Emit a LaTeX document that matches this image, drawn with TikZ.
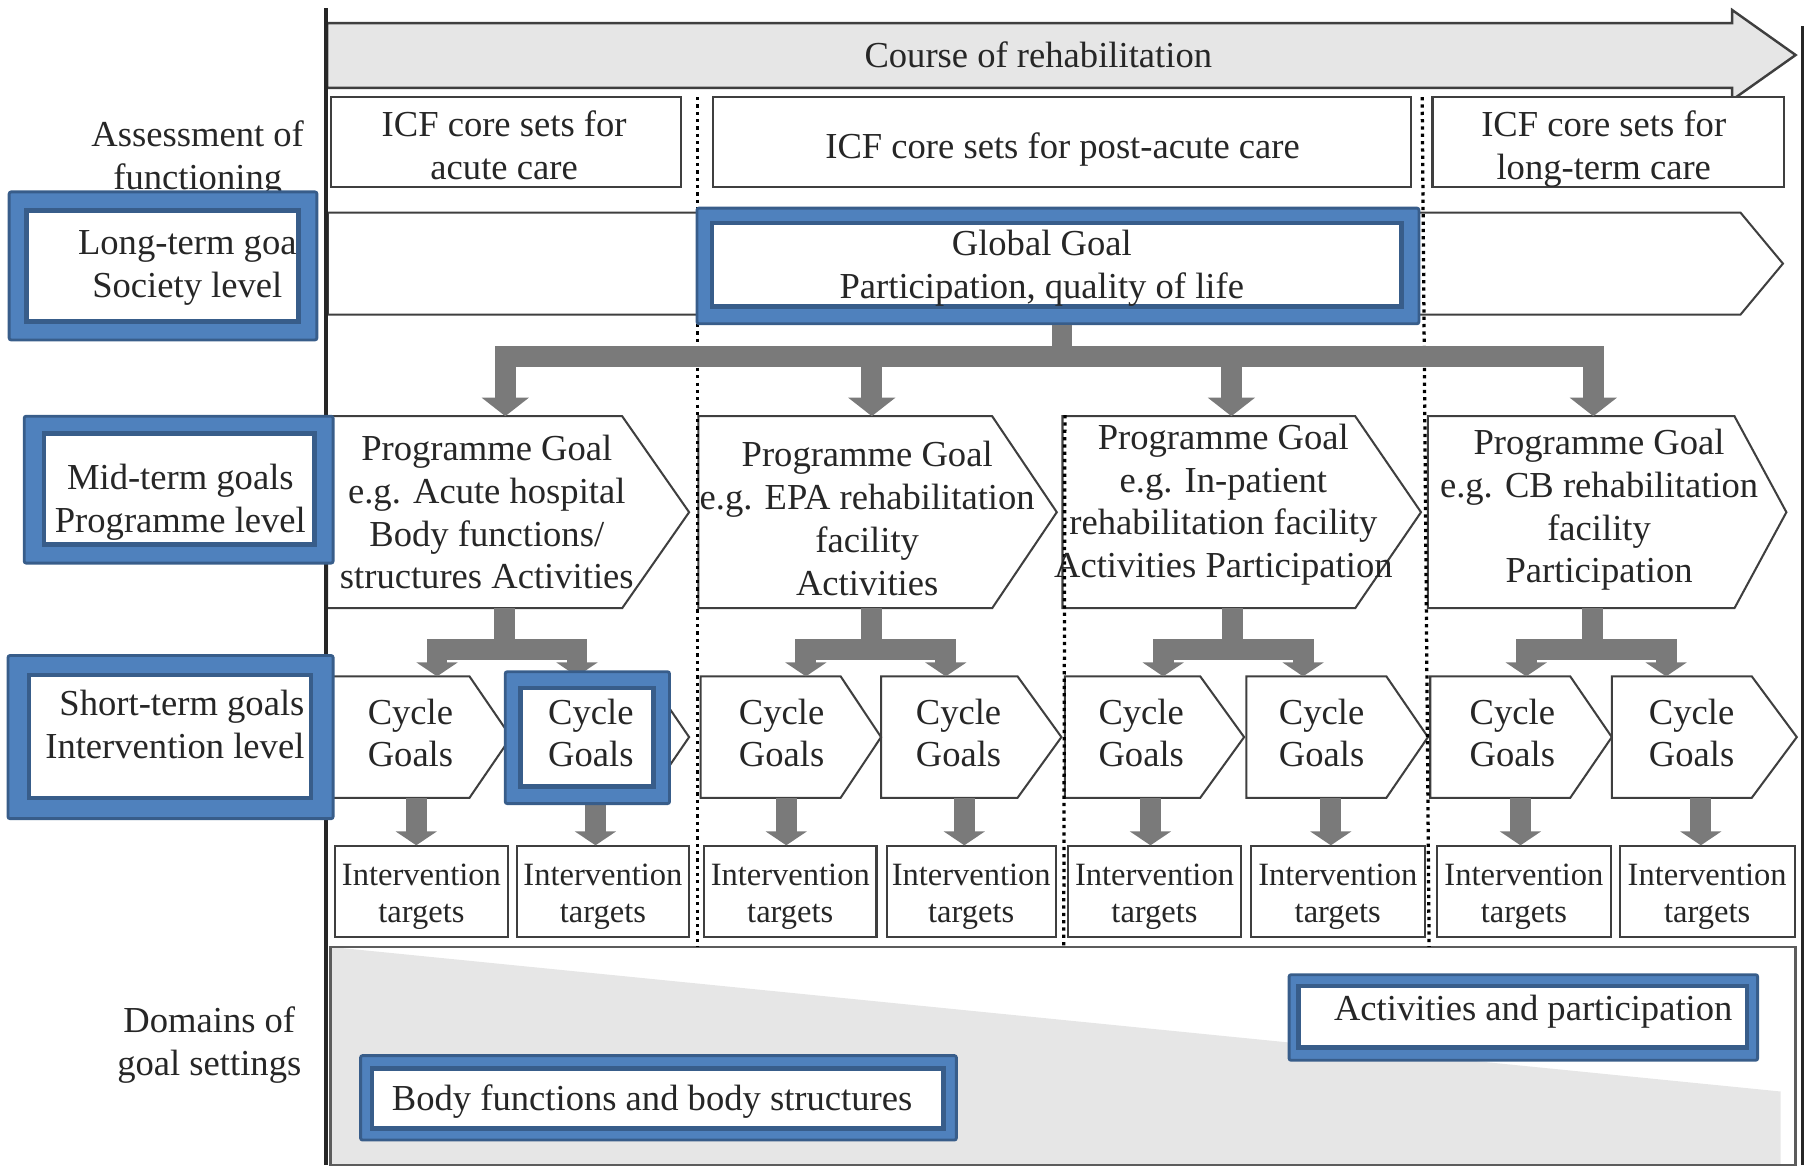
\documentclass[tikz,border=0pt]{standalone}
\usepackage{fontspec}
\setmainfont{Liberation Serif}
\usetikzlibrary{arrows.meta}
\definecolor{txtc}{HTML}{262626}
\definecolor{linec}{HTML}{3F3F3F}
\definecolor{arrc}{HTML}{7A7A7A}
\definecolor{lightg}{HTML}{E6E6E6}
\definecolor{bluemid}{HTML}{4F81BD}
\definecolor{bluedark}{HTML}{385D8A}

% rectangle node from corners: [style]{name}{x1}{y1}{x2}{y2}{text}
\newcommand\myrect[7][]{%
  \pgfmathsetmacro\myW{(#5-#3)/100}%
  \pgfmathsetmacro\myH{(#6-#4)/100}%
  \node[#1, minimum width=\myW cm, minimum height=\myH cm] (#2) at ({(#3+#5)/2},{(#4+#6)/2}) {#7};%
}
% chevron: {name}{x left}{x neck}{x tip}{y top}{y bottom}
\newcommand\mychev[6]{%
  \myrect[chevbody]{#1}{#2}{#5}{#3}{#6}{}%
  \draw[shp] (#1.north west) -- (#1.north east) -- (#4,{(#5+#6)/2}) -- (#1.south east) -- (#1.south west) -- cycle;%
}
% highlight frame: {name}{outer x1 y1 x2 y2}{inner x1 y1 x2 y2}
\newcommand\hlbox[9]{%
  \myrect[hlout]{#1o}{#2}{#3}{#4}{#5}{}%
  \myrect[hlin]{#1i}{#6}{#7}{#8}{#9}{}%
}

\begin{document}
\begin{tikzpicture}[x=0.01cm,y=-0.01cm,
  txt/.style={font=\fontsize{9}{10.53}\selectfont, text=txtc, align=center, inner sep=0pt},
  smalltxt/.style={font=\fontsize{8}{9.1}\selectfont, text=txtc, align=center, inner sep=0pt},
  chevbody/.style={draw=none, inner sep=0pt, outer sep=0pt},
  shp/.style={draw=linec, line width=0.5pt, line join=miter},
  plainbox/.style={draw=linec, line width=0.5pt, fill=white, inner sep=0pt},
  blk/.style={draw=arrc, line width=0.18cm},
  blkbar/.style={blk, line cap=rect},
  blka/.style={blk, -{Triangle[width=0.40cm,length=0.16cm]}},
  blkb/.style={blk, -{Triangle[width=0.35cm,length=0.12cm]}},
  hlout/.style={fill=bluemid, draw=bluedark, line width=0.7pt, rounded corners=0.5pt, inner sep=0pt},
  hlin/.style={fill=white, draw=bluedark, line width=1.1pt, inner sep=0pt},
  frameline/.style={draw=black!85, line width=0.9pt},
  dots/.style={draw=black, line width=0.8pt, dash pattern=on 0.8pt off 1pt},
]
\useasboundingbox (0,0) rectangle (1568,1010);

% ---- domains region
\fill[lightg] (286,819) -- (1540,944) -- (1540,1007) -- (286,1007) -- cycle;
\draw[draw=linec!85, line width=0.6pt] (286,819) rectangle (1553,1007.5);

% ---- course arrow
\draw[fill=lightg, draw=linec, line width=0.6pt] (283,20) -- (1498,20) -- (1498,8.6) -- (1553,47.6) -- (1498,86.5) -- (1498,76) -- (283,76) -- cycle;
\node[txt] (course) at (898,47) {Course of rehabilitation};

% ---- ICF core sets
\myrect[plainbox]{icf1}{286}{84}{589}{162}{}
\myrect[plainbox]{icf2}{617}{84}{1220}{162}{}
\myrect[plainbox]{icf3}{1239}{84}{1543}{162}{}
\node[txt] (icf1t) at (436,126) {ICF core sets for\\acute care};
\node[txt] (icf2t) at (919,129) {ICF core sets for post-acute care};
\node[txt] (icf3t) at (1387,129) {ICF core sets for\\long-term care};

% ---- global row
\mychev{grow}{284}{1505}{1542}{184}{272}

% ---- programme goals
\mychev{pg1}{283}{538}{596}{360}{526}
\mychev{pg2}{604}{858}{914}{360}{526}
\mychev{pg3}{919}{1172}{1229}{360}{526}
\mychev{pg4}{1235}{1500}{1545}{360}{526}

% ---- cycle goals
\mychev{cg1}{287}{406}{442}{585}{690}
\mychev{cg2}{442}{560}{596}{585}{690}
\mychev{cg3}{606}{727}{762}{585}{690}
\mychev{cg4}{762}{880}{918}{585}{690}
\mychev{cg5}{921}{1038}{1076}{585}{690}
\mychev{cg6}{1078}{1199}{1235}{585}{690}
\mychev{cg7}{1237}{1358}{1394}{585}{690}
\mychev{cg8}{1394}{1515}{1554}{585}{690}

% ---- intervention targets
\myrect[plainbox]{it1}{290}{732}{439}{810}{}
\myrect[plainbox]{it2}{447}{732}{596}{810}{}
\myrect[plainbox]{it3}{609}{732}{758}{810}{}
\myrect[plainbox]{it4}{767}{732}{913}{810}{}
\myrect[plainbox]{it5}{924}{732}{1073}{810}{}
\myrect[plainbox]{it6}{1082}{732}{1232}{810}{}
\myrect[plainbox]{it7}{1243}{732}{1393}{810}{}
\myrect[plainbox]{it8}{1401}{732}{1552}{810}{}
\foreach \n/\xx in {1/364.5,2/521.5,3/683.5,4/840,5/998.5,6/1157,7/1318,8/1476.5}
  \node[smalltxt] (it\n t) at (\xx,775.5) {Intervention\\targets};

% ---- dotted separators
\draw[dots] (603,84) -- (603,819);
\draw[dots] (921,359) -- (920,819);
\draw[dots] (1230,84) -- (1236,819);

% ---- global goal highlight
\hlbox{gg}{603}{180}{1227}{280}{616}{193}{1212}{265}
\node[txt] (ggt) at (901,232) {Global Goal\\Participation, quality of life};

% ---- chevron texts
\node[txt] (pg1t) at (421,443) {Programme Goal\\e.g. Acute hospital\\Body functions/\\structures Activities};
\node[txt] (pg2t) at (750,448.5) {Programme Goal\\e.g. EPA rehabilitation\\facility\\Activities};
\node[txt] (pg3t) at (1058,436.5) {Programme Goal\\e.g. In-patient\\rehabilitation facility\\Activities Participation};
\node[txt] (pg4t) at (1383,441) {Programme Goal\\e.g. CB rehabilitation\\facility\\Participation};
\node[txt] (cg1t) at (355,634) {Cycle\\Goals};
\node[txt] (cg3t) at (676,634) {Cycle\\Goals};
\node[txt] (cg4t) at (829,634) {Cycle\\Goals};
\node[txt] (cg5t) at (987,634) {Cycle\\Goals};
\node[txt] (cg6t) at (1143,634) {Cycle\\Goals};
\node[txt] (cg7t) at (1308,634) {Cycle\\Goals};
\node[txt] (cg8t) at (1463,634) {Cycle\\Goals};

% ---- global tree
\coordinate (b1) at (437,308);
\coordinate (b2) at (754,308);
\coordinate (b3) at (1065,308);
\coordinate (b4) at (1378,308);
\draw[blk] ([xshift=0.035cm]ggo.south) -- ([xshift=0.035cm]ggo.south |- b1);
\draw[blkbar] (b1) -- (b4);
\draw[blka] (b1) -- (b1 |- pg1.north);
\draw[blka] (b2) -- (b2 |- pg2.north);
\draw[blka] (b3) -- (b3 |- pg3.north);
\draw[blka] (b4) -- (b4 |- pg4.north);

% ---- programme sub-trees
\coordinate (s1) at (436,562);  \coordinate (l1) at (378,562);  \coordinate (r1) at (499,562);
\coordinate (s2) at (754,562);  \coordinate (l2) at (697,562);  \coordinate (r2) at (818,562);
\coordinate (s3) at (1066,562); \coordinate (l3) at (1006,562); \coordinate (r3) at (1127,562);
\coordinate (s4) at (1377,562); \coordinate (l4) at (1320,562); \coordinate (r4) at (1441,562);
\draw[blk] (pg1.south -| s1) -- (s1);
\draw[blk] (pg2.south -| s2) -- (s2);
\draw[blk] (pg3.south -| s3) -- (s3);
\draw[blk] (pg4.south -| s4) -- (s4);
\draw[blkbar] (l1) -- (r1);
\draw[blkbar] (l2) -- (r2);
\draw[blkbar] (l3) -- (r3);
\draw[blkbar] (l4) -- (r4);
\draw[blkb] (l1) -- (l1 |- cg1.north);
\draw[blkb] (r1) -- (r1 |- cg2.north);
\draw[blkb] (l2) -- (l2 |- cg3.north);
\draw[blkb] (r2) -- (r2 |- cg4.north);
\draw[blkb] (l3) -- (l3 |- cg5.north);
\draw[blkb] (r3) -- (r3 |- cg6.north);
\draw[blkb] (l4) -- (l4 |- cg7.north);
\draw[blkb] (r4) -- (r4 |- cg8.north);

% ---- cycle goals to intervention targets
\coordinate (d1) at (360,700);
\coordinate (d2) at (515,700);
\coordinate (d3) at (680,700);
\coordinate (d4) at (834,700);
\coordinate (d5) at (995,700);
\coordinate (d6) at (1151,700);
\coordinate (d7) at (1315,700);
\coordinate (d8) at (1471,700);
\draw[blkb] (cg1.south -| d1) -- (it1.north -| d1);
\draw[blkb] (cg2.south -| d2) -- (it2.north -| d2);
\draw[blkb] (cg3.south -| d3) -- (it3.north -| d3);
\draw[blkb] (cg4.south -| d4) -- (it4.north -| d4);
\draw[blkb] (cg5.south -| d5) -- (it5.north -| d5);
\draw[blkb] (cg6.south -| d6) -- (it6.north -| d6);
\draw[blkb] (cg7.south -| d7) -- (it7.north -| d7);
\draw[blkb] (cg8.south -| d8) -- (it8.north -| d8);

% ---- highlighted cycle goal
\hlbox{cgh}{437}{581}{579}{695}{450}{595}{565}{680}
\node[txt] (cght) at (511,634) {Cycle\\Goals};

% ---- frame lines
\draw[frameline] (282,7) -- (282,1008);
\draw[frameline] (1559,22.5) -- (1559,1008);

% ---- left labels
\node[txt] (assess) at (171,137.5) {Assessment of\\functioning};
\hlbox{lt}{8}{166}{274}{294}{23}{182}{258}{278}
\node[txt] (ltt) at (162,232) {Long-term goa\\Society level};
\hlbox{mt}{21}{360}{288}{487}{38}{375}{272}{471}
\node[txt] (mtt) at (156,434.5) {Mid-term goals\\Programme level};
\hlbox{st}{7}{567}{288}{708}{25}{584}{269}{690}
\node[txt, align=right, anchor=east] (stt) at (264,626.5) {Short-term goals\\Intervention level};
\node[txt] (dom) at (181,903.5) {Domains of\\goal settings};

% ---- domain boxes
\hlbox{bf}{312}{913}{827}{986}{322}{924}{816}{976}
\node[txt] (bft) at (564,953) {Body functions and body structures};
\hlbox{ap}{1115}{843}{1520}{917}{1123}{853}{1511}{906}
\node[txt] (apt) at (1326,875) {Activities and participation};

\end{tikzpicture}
\end{document}
